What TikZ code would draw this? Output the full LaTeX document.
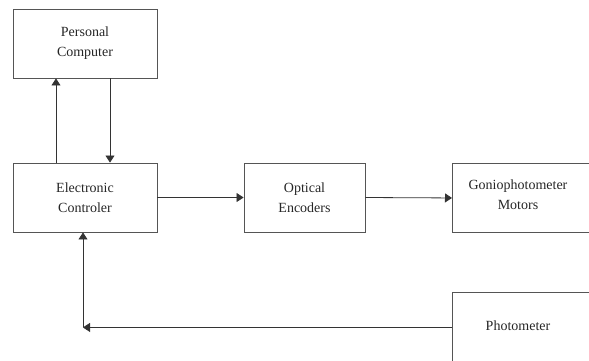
\documentclass[tikz,border=0pt]{standalone}
\usepackage{fontspec}
\setmainfont{Liberation Serif}
\usetikzlibrary{arrows.meta, positioning, calc}
\definecolor{boxline}{HTML}{555555}
\definecolor{wireline}{HTML}{333333}

\begin{document}
\begin{tikzpicture}[
  x=1pt, y=-1pt,
  blk/.style={draw=boxline, line width=0.9pt, minimum width=144pt, minimum height=69pt, align=center, font=\fontsize{14}{20}\selectfont, text=black!85},
  txt/.style={align=center, font=\fontsize{14}{20}\selectfont, text=black!85},
  arr/.style={-{Triangle[length=7pt, width=9pt]}, wireline, line width=0.8pt}
]
\clip (0,0) rectangle (589,360);

\node[blk] (pc) at (85,43.5) {Personal\\Computer};
\node[blk] (ec) at (85,197.5) {Electronic\\Controler};
\node[blk, minimum width=121pt] (oe) at (304.5,197.5) {Optical\\Encoders};

\node[blk, minimum width=170pt, anchor=north west] (gm) at (452,163) {};
\node[txt] (gm-text) at (518,195) {Goniophotometer\\Motors};
\node[blk, minimum width=170pt, minimum height=70pt, anchor=north west] (ph) at (452,292) {};
\node[txt] (ph-text) at (518,326) {Photometer};

\coordinate (fb) at ([xshift=-2pt]ec.south |- ph.west);

\draw[arr] ([xshift=-29pt]ec.north) -- ([xshift=-29pt]pc.south);
\draw[arr] ([xshift=25pt]pc.south) -- ([xshift=25pt]ec.north);
\draw[arr] (ec.east) -- (oe.west);
\draw[arr] (oe.east) -- (gm.west);
\draw[arr] (ph.west) -- (fb);
\draw[arr] (fb) -- ([xshift=-2pt]ec.south);
\end{tikzpicture}
\end{document}
